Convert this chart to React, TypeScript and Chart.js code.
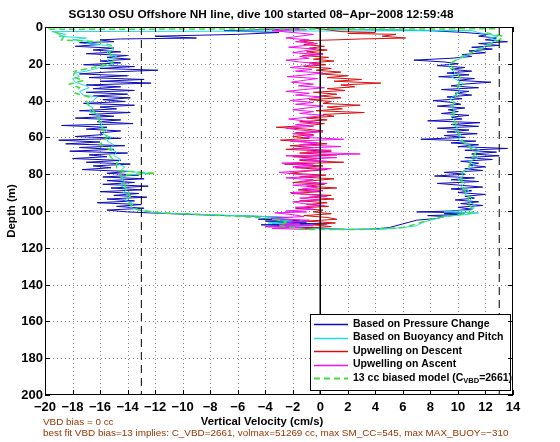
import React, { useEffect, useRef } from 'react';
import { Chart, registerables } from 'chart.js';

Chart.register(...registerables);

// ---------- text ----------
const titleText = 'SG130 OSU Offshore NH line, dive 100 started 08\u2212Apr\u22122008 12:59:48';
const xAxisTitle = 'Vertical Velocity (cm/s)';
const yAxisTitle = 'Depth (m)';
const noteLine1 = 'VBD bias = 0 cc';
const noteLine2 = 'best fit VBD bias=13 implies: C_VBD=2661, volmax=51269 cc, max SM_CC=545, max MAX_BUOY=\u2212310';

// ---------- ticks ----------
const xTickValues = [-20, -18, -16, -14, -12, -10, -8, -6, -4, -2, 0, 2, 4, 6, 8, 10, 12, 14];
const xTickLabels = ['\u221220', '\u221218', '\u221216', '\u221214', '\u221212', '\u221210', '\u22128', '\u22126', '\u22124', '\u22122', '0', '2', '4', '6', '8', '10', '12', '14'];
const yTickValues = [0, 20, 40, 60, 80, 100, 120, 140, 160, 180, 200];
const yTickLabels = ['0', '20', '40', '60', '80', '100', '120', '140', '160', '180', '200'];

// ---------- legend ----------
const legendLabels = ['Based on Pressure Change', 'Based on Buoyancy and Pitch', 'Upwelling on Descent', 'Upwelling on Ascent'];
const legendModelParts = ['13 cc biased model (C', 'VBD', '=2661)'];

// ---------- reference lines [depth, velocity] ----------
const zeroLine: [number, number][] = [[0, 0], [200, 0]];
const leftLimit: [number, number][] = [[0, -13], [200, -13]];
const rightLimit: [number, number][] = [[0, 13], [200, 13]];

// ---------- series, [depth (m), vertical velocity (cm/s)] in time order ----------
const pressureChange: [number, number][] = [
  [1, -1.5], [2, -7], [3, -3], [4, -6], [5, -12], [6, -9], [6.5, -14.5], [7, -16], [8, -15], [8.5, -17.5],
  [9.5, -16], [10.5, -17.8], [11.5, -15], [12.5, -16.5], [13.5, -14.5], [14.5, -17], [15.5, -14], [16.5, -15.5],
  [17.5, -13.8], [18.5, -16], [19.5, -14.5], [20.5, -17.2], [21.5, -13.5], [22.5, -16], [23.5, -11.8], [24.5, -15.5],
  [25.5, -17.5], [26.5, -14], [27.5, -16.8], [28.5, -12.8], [29.5, -16], [30.5, -12.3], [31.5, -17], [32.5, -14.5],
  [33.5, -16.5], [34.5, -13.5], [35.5, -17], [36.5, -14], [37.5, -16.5], [38.5, -13.8], [39.5, -15.8], [40.5, -14.2],
  [41.5, -17.2], [42.5, -13.5], [43.5, -16], [44.5, -14.8], [45.5, -17.5], [46.5, -13.8], [47.5, -16.8], [48.5, -15],
  [49.5, -17.8], [50.5, -14.5], [51.5, -16.2], [52.5, -13.6], [53.5, -18.8], [54.5, -15.5], [55.5, -17], [56.5, -14.5],
  [57.5, -16], [58.5, -15.8], [59.5, -17.8], [60.5, -14.5], [61.5, -19], [62.5, -16], [63.5, -18.5], [64.5, -14.2],
  [65.5, -17.5], [66.5, -15], [67.5, -18.2], [68.5, -14], [69.5, -16.8], [70.5, -15.5], [71.5, -18], [72.5, -14.5],
  [73.5, -17], [74.5, -13.8], [75.5, -16.5], [76.5, -15.2], [77.5, -17.3], [78.5, -14], [79.5, -15.5], [80.5, -13.2],
  [81.5, -15.8], [82.5, -12.8], [83.5, -15.5], [84.5, -13.5], [85.5, -15.8], [86.5, -12.5], [87.5, -15.2], [88.5, -13],
  [89.5, -16], [90.5, -13.2], [91.5, -15], [92.5, -12.6], [93.5, -15.5], [94.5, -13.5], [95.5, -16.2], [96.5, -13],
  [97.5, -14.8], [98.5, -12.8], [99.5, -15.5], [100.5, -14], [101, -12.5], [102, -9], [102.5, -6.5], [103, -4],
  [103.5, -2.5], [104.5, -4.5], [105, -1.5], [105.5, -4], [106, -1], [106.5, -3.5], [107, 0.5], [107.5, -4.3],
  [108, -2], [108.5, -3.8], [109, -0.5], [109.5, 0], [110, 2], [109.8, 4], [109, 5], [108, 5.5], [107, 6],
  [106, 6.5], [105, 7], [104, 8.5], [103, 9], [102.5, 7.8], [102, 10], [101.5, 9], [101, 10.5], [100.5, 7],
  [100, 9.5], [99, 11], [98, 10], [97, 11.8], [96, 10.2], [95, 11.5], [94, 9.8], [93, 11.2], [92, 10.5],
  [91, 12], [90, 10], [89, 11], [88, 9.5], [87, 11.8], [86, 10.2], [85, 8.5], [84, 11.5], [83, 9.5],
  [82, 11.2], [81, 8.3], [80, 10.5], [79, 9], [78, 11.8], [77, 10.5], [76, 12], [75, 10.8], [74, 11.5],
  [73, 10.2], [72, 12.5], [71, 10.5], [70, 13], [69, 11], [68, 12.8], [67, 10.5], [66, 13.6], [65, 10],
  [64, 11.5], [63, 9.5], [62, 11.3], [61, 7.3], [60, 10.5], [59, 9], [58, 11.4], [57, 9.2], [56, 10.8],
  [55, 8.5], [54, 11.5], [53, 9.5], [52, 11.6], [51, 7.8], [50, 10.3], [49, 9.5], [48, 10.8], [47, 8.8],
  [46, 10], [45, 9.3], [44, 10.5], [43, 8.5], [42, 10.2], [41, 9.6], [40, 8.2], [39, 10.3], [38, 9.2],
  [37, 11], [36, 9.8], [35, 10.8], [34, 8.8], [33, 11.5], [32, 9.5], [31, 10.5], [30, 12.4], [29, 10],
  [28, 11.2], [27, 8.6], [26, 10.8], [25, 9.2], [24, 11], [23, 9.5], [22, 10.5], [21, 8.5], [20, 10],
  [19, 9], [18, 6.8], [17, 9.5], [16, 11], [15, 10.3], [14, 12], [13, 10.8], [12, 12.5], [11, 11],
  [10, 13], [9, 11.5], [8, 13.6], [7, 12], [6, 12.8], [5, 11.5], [4, 12.2], [3, 10.5], [2, 8], [1.5, 4], [1, 0.5],
];

const buoyancyPitch: [number, number][] = [
  [2, 11], [2.5, -19.5], [4, -18.5], [5, -19], [6, -17], [7, -18], [8, -16.5], [9, -17], [10, -15.5], [12, -15],
  [14, -15.5], [16, -14.8], [18, -15.5], [20, -15], [22, -16], [24, -17], [25, -17.8], [27, -17.5], [28, -18],
  [30, -17.8], [32, -17], [33, -16.8], [35, -17.5], [37, -17.2], [38, -16.2], [40, -16.5], [42, -17], [44, -16.5],
  [46, -16.8], [48, -16], [50, -16.2], [52, -15.8], [54, -16], [56, -15.5], [58, -15.8], [60, -15.2], [62, -15.5],
  [64, -15], [66, -15.3], [68, -14.8], [70, -15], [72, -14.5], [74, -14.8], [76, -14.2], [78, -14.5], [79.5, -12.5],
  [80.5, -14], [82, -14.5], [84, -14.2], [86, -14.6], [88, -14], [90, -14.3], [92, -13.8], [94, -14.2], [96, -13.6],
  [98, -13.8], [99.5, -13.2], [101, -12], [102, -8], [103, -4], [103.5, -2], [104.5, -3.5], [105.5, -2], [106.5, -3.8],
  [107.5, -1.5], [108.5, -3], [109.5, -1], [110, 2], [110, 4.5], [109, 6], [108, 7], [106, 7.5], [104, 8.5],
  [103, 9], [102, 10.5], [101, 11.5], [100.5, 9], [99.5, 11], [97, 11.3], [95, 10.8], [93, 11], [91, 10.5],
  [89, 10.8], [87, 10.2], [85, 10.5], [83, 10], [81, 10.4], [79, 10.2], [77, 10.8], [75, 11.2], [73, 10.8],
  [71, 11.5], [69, 11.2], [67, 11.6], [65, 11], [63, 10.5], [61, 10], [59, 10.3], [57, 9.8], [55, 10],
  [53, 9.6], [51, 9.8], [49, 9.5], [47, 9.8], [45, 9.7], [43, 9.5], [41, 9.8], [39, 9.4], [37, 9.8],
  [35, 10.2], [33, 10], [31, 10.4], [29, 10], [27, 9.5], [25, 9.8], [23, 9.5], [21, 9.3], [19, 9.6],
  [17, 10.2], [15, 10.8], [13, 11.2], [11, 11.8], [9, 12.3], [7, 12.8], [6, 12.3], [5, 12.9], [4, 12.2],
  [3, 11.5], [2, 11], [1.5, 4], [1, -1],
];

const upwellingDescent: [number, number][] = [
  [0.5, -0.5], [1.5, 0.5], [2.5, 1.5], [3, 4], [3.5, 2], [4, 5.5], [5, 4.5], [6, 6.2], [6.5, 3], [7, 1],
  [7.5, -1.5], [8.5, -0.5], [9.5, -1.2], [10.5, 0.3], [11.5, -0.8], [12.5, 0.5], [13.5, -1], [14.5, 0.2],
  [15.5, -1.3], [16.5, 0.6], [17.5, -0.5], [18.5, 1], [19.5, -0.8], [20.5, 0.4], [21.5, -1.2], [22.5, 0.8],
  [23.5, -0.3], [24.5, 1.5], [25.5, 0], [26.5, 2], [27.5, 0.5], [28.5, 3], [29.5, 1], [30.5, 4.4], [31.5, 1.5],
  [32.5, 2.5], [33.5, 0.5], [34.5, 1.8], [35.5, -0.5], [36.5, 1.2], [37.5, 0], [38.5, 1.5], [39.5, -0.8],
  [40.5, 0.8], [41.5, 0.2], [42.5, 2.9], [43.5, 0.5], [44.5, 1.6], [45.5, -0.3], [46.5, 3.2], [47.5, 0.2],
  [48.5, 1], [49.5, -1], [50.5, 0.5], [51.5, -1.5], [52.5, 0.3], [53.5, -0.8], [54.5, -3.2], [55.5, -1],
  [56.5, 0.2], [57.5, -1.8], [58.5, -0.5], [59.5, -2], [60.5, -0.8], [61.5, -2.9], [62.5, -1], [63.5, 0.5],
  [64.5, -2.2], [65.5, -0.5], [66.5, -2.5], [67.5, 0.8], [68.5, -1.5], [69.5, 1.2], [70.5, -2], [71.5, 0],
  [72.5, -1.5], [73.5, 1.7], [74.5, -2.6], [75.5, 0.2], [76.5, -1.8], [77.5, 0.5], [78.5, -1.2], [79.5, -2.2],
  [80.5, 0.4], [81.5, -1.5], [82.5, 1], [83.5, -0.5], [84.5, -2], [85.5, 0.3], [86.5, -1], [87.5, 1.2],
  [88.5, -1.6], [89.5, 0], [90.5, -2.1], [91.5, 0.8], [92.5, -0.8], [93.5, 1], [94.5, -1.5], [95.5, 0.5],
  [96.5, -1], [97.5, 0.6], [98.5, -1.8], [99.5, 0.2], [100.5, -0.5], [101.5, 0.8], [102.5, -1.2], [103.5, 0.5],
  [104.5, 1.2], [105.5, -1], [106.5, 1.1], [107.5, -0.5], [108.5, 0.8], [109.5, -1.5], [110, -0.5],
];

const upwellingAscent: [number, number][] = [
  [110, -1], [109.5, -3.5], [109, -1.5], [108.5, -4], [108, -0.5], [107.5, -3], [107, -1.5], [106, -2.5],
  [105, -0.8], [104, -3.8], [103, -1.2], [102, -2], [101, -3.3], [100.5, -1], [100, -2.5], [99, -0.5],
  [98, -1.8], [97, 0.3], [96, -1.2], [95, -2], [94, 0], [93, -1.5], [92, 0.5], [91, -1], [90, -2.2],
  [89, 0.2], [88, -1.3], [87, -0.2], [86, -2], [85, 0.5], [84, -1.5], [83, -0.5], [82, -2.5], [81, 0],
  [80, -1.8], [79, -3], [78, -1], [77, 0.8], [76, -2], [75, -0.5], [74, -2.8], [73, 0.5], [72, -1.5],
  [71, 1.2], [70, -2.5], [69, 2.9], [68, -1], [67, 0.8], [66, -2], [65, 1.5], [64, -1.5], [63, -0.2],
  [62, -2.2], [61, 1.7], [60, -1.2], [59, -0.5], [58, -2], [57, 0.2], [56, -1.5], [55, -2.5], [54, -0.5],
  [53, -1.8], [52, 0], [51, -1.2], [50, -2.3], [49, -0.8], [48, 0.3], [47, -1.5], [46, -0.5], [45, -2],
  [44, -1], [43, 0.2], [42, -1.8], [41, -0.5], [40, -2.2], [39, -1], [38, 0.1], [37, -1.8], [36, -0.8],
  [35, -2.5], [34, -1.2], [33, 0.3], [32, -1.6], [31, -0.5], [30, -2.1], [29, -1.2], [28, -0.2], [27, -2.4],
  [26, -1], [25, 0.2], [24, -1.8], [23, -0.6], [22, -2.2], [21, -1], [20, 0], [19, -1.5], [18, -2.5],
  [17, -0.8], [16, -1.5], [15, 0.2], [14, -2], [13, -1.2], [12, -0.3], [11, -2.3], [10, -1], [9, -0.2],
  [8, -1.8], [7, -0.8], [6, -2.5], [5, -1.5], [4, -0.5], [3, -2], [2, -3.5], [1.5, -1], [1, -4],
];

const biasedModel: [number, number][] = [
  [1, 12.7], [1.2, -19.6], [3, -19.2], [5, -18.6], [7, -18.8], [8, -16], [10, -15.2], [14, -15.3], [18, -15],
  [20, -15.2], [22, -16.5], [24, -17.8], [27, -18], [29, -17.2], [31, -18.2], [33, -17.5], [36, -17.8], [38, -16.8],
  [40, -17], [44, -16.7], [48, -16.2], [52, -16], [56, -15.8], [60, -15.5], [62, -15.8], [64, -16], [67, -15.2],
  [70, -15.3], [74, -14.8], [78, -14.8], [79.5, -12], [80.5, -14.5], [84, -14.3], [88, -14.1], [92, -13.8],
  [96, -13.9], [99.5, -13.2], [101, -11.5], [102.5, -7], [104, -3.5], [106, -2.5], [108, -3], [110, -1],
  [110, 3], [109, 6], [107, 7], [104, 8.3], [102, 10], [101, 11], [99.5, 11.2], [96, 10.7], [92, 10.8],
  [88, 10.4], [84, 10.3], [80, 10.2], [76, 10.8], [72, 11], [68, 11.3], [64, 10.6], [60, 10.1], [56, 10],
  [52, 9.8], [48, 9.7], [44, 9.6], [40, 9.7], [36, 9.9], [32, 10], [28, 10.2], [24, 9.8], [20, 9.4],
  [16, 10.3], [12, 11.6], [9, 12.5], [7, 13], [5, 13.3], [4, 12.5], [3, 12],
];

// ---------- styles ----------
const COL_BLUE = '#0c0cb8';
const COL_CYAN = '#22dde6';
const COL_RED = '#d41010';
const COL_MAGENTA = '#f010f0';
const COL_GREEN = '#3ce03c';
const COL_NOTE = '#993300';
const FONT = 'Arial, "Liberation Sans", Helvetica, sans-serif';

const toXY = (arr: [number, number][]) => arr.map(([d, v]) => ({ x: v, y: d }));

const lineDs = (label: string, arr: [number, number][], color: string, width: number, dash: number[] = []) => ({
  label,
  data: toXY(arr),
  showLine: true,
  borderColor: color,
  backgroundColor: color,
  borderWidth: width,
  borderDash: dash,
  pointRadius: 0,
  pointHoverRadius: 0,
  tension: 0,
  fill: false,
});

const matlabPlugin = {
  id: 'matlabLook',
  beforeDatasetsDraw(chart: any) {
    const { ctx, chartArea: a, scales } = chart;
    const xs = scales.x;
    const ys = scales.y;
    ctx.save();
    ctx.strokeStyle = '#8a8a8a';
    ctx.lineWidth = 1;
    ctx.setLineDash([1, 3]);
    xTickValues.forEach((v) => {
      const px = Math.round(xs.getPixelForValue(v)) + 0.5;
      if (px <= a.left + 1 || px >= a.right - 1) return;
      ctx.beginPath();
      ctx.moveTo(px, a.top);
      ctx.lineTo(px, a.bottom);
      ctx.stroke();
    });
    yTickValues.forEach((v) => {
      const py = Math.round(ys.getPixelForValue(v)) + 0.5;
      if (py <= a.top + 1 || py >= a.bottom - 1) return;
      ctx.beginPath();
      ctx.moveTo(a.left, py);
      ctx.lineTo(a.right, py);
      ctx.stroke();
    });
    ctx.restore();
  },
  afterDatasetsDraw(chart: any) {
    const { ctx, chartArea: a, scales } = chart;
    const xs = scales.x;
    const ys = scales.y;
    ctx.save();

    // legend
    const lx = 310, ly = 314, lw = 200, lh = 76;
    ctx.fillStyle = '#ffffff';
    ctx.fillRect(lx, ly, lw, lh);
    ctx.strokeStyle = '#000';
    ctx.lineWidth = 1;
    ctx.setLineDash([]);
    ctx.strokeRect(lx + 0.5, ly + 0.5, lw, lh);
    const rows = [324, 337.5, 351, 364.5, 378];
    const cols = [COL_BLUE, COL_CYAN, COL_RED, COL_MAGENTA, COL_GREEN];
    rows.forEach((ry, i) => {
      ctx.strokeStyle = cols[i];
      ctx.lineWidth = i === 4 ? 1.8 : 1.5;
      ctx.setLineDash(i === 4 ? [6, 4] : []);
      ctx.beginPath();
      ctx.moveTo(314, Math.round(ry) + 0.5);
      ctx.lineTo(348, Math.round(ry) + 0.5);
      ctx.stroke();
    });
    ctx.setLineDash([]);
    ctx.fillStyle = '#000';
    ctx.font = `bold 10.5px ${FONT}`;
    ctx.textAlign = 'left';
    ctx.textBaseline = 'middle';
    legendLabels.forEach((t, i) => ctx.fillText(t, 353, rows[i]));
    let tx = 353;
    ctx.fillText(legendModelParts[0], tx, rows[4]);
    tx += ctx.measureText(legendModelParts[0]).width;
    ctx.font = `bold 7.5px ${FONT}`;
    ctx.fillText(legendModelParts[1], tx, rows[4] + 3);
    tx += ctx.measureText(legendModelParts[1]).width;
    ctx.font = `bold 10.5px ${FONT}`;
    ctx.fillText(legendModelParts[2], tx, rows[4]);

    // axes box
    ctx.strokeStyle = '#000';
    ctx.lineWidth = 1;
    ctx.strokeRect(a.left + 0.5, a.top + 0.5, a.right - a.left - 1, a.bottom - a.top - 1);

    // inward ticks
    const tl = 5;
    ctx.beginPath();
    xTickValues.forEach((v) => {
      const px = Math.round(xs.getPixelForValue(v)) + 0.5;
      ctx.moveTo(px, a.top);
      ctx.lineTo(px, a.top + tl);
      ctx.moveTo(px, a.bottom);
      ctx.lineTo(px, a.bottom - tl);
    });
    yTickValues.forEach((v) => {
      const py = Math.round(ys.getPixelForValue(v)) + 0.5;
      ctx.moveTo(a.left, py);
      ctx.lineTo(a.left + tl, py);
      ctx.moveTo(a.right, py);
      ctx.lineTo(a.right - tl, py);
    });
    ctx.stroke();

    // tick labels
    ctx.fillStyle = '#000';
    ctx.font = `bold 13px ${FONT}`;
    ctx.textAlign = 'center';
    ctx.textBaseline = 'alphabetic';
    xTickValues.forEach((v, i) => {
      ctx.fillText(xTickLabels[i], xs.getPixelForValue(v), a.bottom + 15.5);
    });
    ctx.textAlign = 'right';
    ctx.textBaseline = 'middle';
    yTickValues.forEach((v, i) => {
      ctx.fillText(yTickLabels[i], a.left - 2, ys.getPixelForValue(v) + 0.5);
    });

    // title
    ctx.textAlign = 'center';
    ctx.textBaseline = 'alphabetic';
    ctx.font = `bold 11.8px ${FONT}`;
    ctx.fillText(titleText, 261, 18);

    // x axis title
    ctx.font = `bold 11.3px ${FONT}`;
    ctx.fillText(xAxisTitle, 262, 425);

    // y axis title
    ctx.save();
    ctx.translate(15, (a.top + a.bottom) / 2);
    ctx.rotate(-Math.PI / 2);
    ctx.textAlign = 'center';
    ctx.textBaseline = 'alphabetic';
    ctx.font = `bold 11.5px ${FONT}`;
    ctx.fillText(yAxisTitle, 0, 0);
    ctx.restore();

    // notes
    ctx.fillStyle = COL_NOTE;
    ctx.font = `9.9px ${FONT}`;
    ctx.textAlign = 'left';
    ctx.fillText(noteLine1, 43, 425);
    ctx.fillText(noteLine2, 43, 436);

    ctx.restore();
  },
};

export default function App() {
  const canvasRef = useRef<HTMLCanvasElement | null>(null);

  useEffect(() => {
    document.body.style.margin = '0';
    const canvas = canvasRef.current;
    if (!canvas) return;
    const chart = new Chart(canvas, {
      type: 'scatter',
      data: {
        datasets: [
          lineDs('zero', zeroLine, '#000000', 1),
          lineDs('limitLeft', leftLimit, '#000000', 1, [8, 5]),
          lineDs('limitRight', rightLimit, '#000000', 1, [8, 5]),
          lineDs('13 cc biased model', biasedModel, COL_GREEN, 1.5, [6, 4]),
          lineDs('Upwelling on Ascent', upwellingAscent, COL_MAGENTA, 1),
          lineDs('Upwelling on Descent', upwellingDescent, COL_RED, 1),
          lineDs('Based on Buoyancy and Pitch', buoyancyPitch, COL_CYAN, 1),
          lineDs('Based on Pressure Change', pressureChange, COL_BLUE, 1),
        ] as any,
      },
      options: {
        animation: false,
        responsive: false,
        maintainAspectRatio: false,
        devicePixelRatio: 1,
        layout: { padding: { left: 45, right: 47, top: 27, bottom: 47 } },
        scales: {
          x: { type: 'linear', min: -20, max: 14, display: false },
          y: { type: 'linear', min: 0, max: 200, reverse: true, display: false },
        },
        plugins: {
          legend: { display: false },
          tooltip: { enabled: false },
        },
        events: [],
      },
      plugins: [matlabPlugin],
    });
    return () => chart.destroy();
  }, []);

  return (
    <div style={{ width: 560, height: 442, background: '#fff' }}>
      <canvas ref={canvasRef} width={560} height={442} style={{ display: 'block' }} />
    </div>
  );
}
